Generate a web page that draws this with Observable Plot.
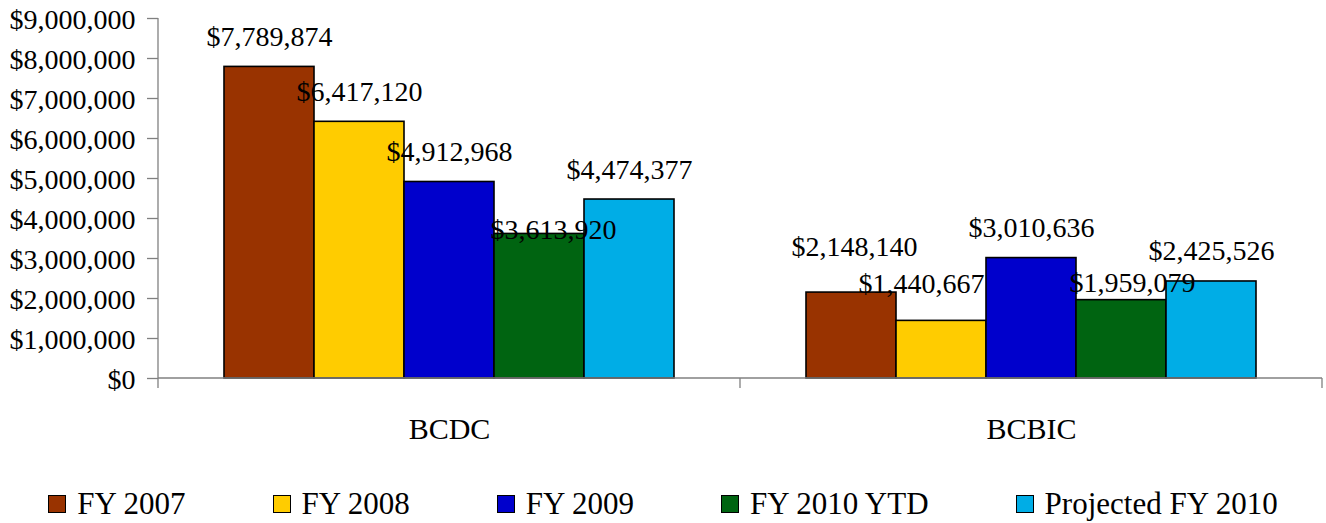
<!DOCTYPE html>
<html>
<head>
<meta charset="utf-8">
<script src="https://cdn.jsdelivr.net/npm/d3@7"></script>
<script src="https://cdn.jsdelivr.net/npm/@observablehq/plot@0.6"></script>
<style>
  html, body { margin: 0; padding: 0; background: #fff; font-family: 'Liberation Serif', serif; }
  #chart { width: 1326px; font-family: 'Liberation Serif', serif; }
  #chart svg, #chart svg text { font-family: 'Liberation Serif', serif !important; }
  .legend { display: flex; justify-content: center; align-items: center; gap: 87px; height: 34px; padding-top: 14.5px; line-height: 34px; font-size: 31px; color: #000; font-family: 'Liberation Serif', serif; }
  .legend .item { display: flex; align-items: center; white-space: nowrap; }
  .legend .sw { width: 18px; height: 18px; box-sizing: border-box; border: 1.6px solid #000; margin-right: 11px; }
</style>
</head>
<body>
<div id="chart"></div>
<script>
// ---- data ----
const categories = ["BCDC", "BCBIC"];
const series = ["FY 2007", "FY 2008", "FY 2009", "FY 2010 YTD", "Projected FY 2010"];
const fy2007 = [7789874, 2148140];
const fy2008 = [6417120, 1440667];
const fy2009 = [4912968, 3010636];
const fy2010ytd = [3613920, 1959079];
const projected2010 = [4474377, 2425526];
const yTicks = [0, 1000000, 2000000, 3000000, 4000000, 5000000, 6000000, 7000000, 8000000, 9000000];

// ---- styling ----
const colors = ["#993300", "#FFCC00", "#0000CC", "#006411", "#00ADE6"];
// per-label nudges (px), order: category-major, series-minor
const labelDx = [0, 0, 0, 14, 0,   3, -20, 0, 11, 0];
const labelDy = [-21, -21, -21, 5, -21,   -37, -28, -21, -8, -21];

const valuesBySeries = [fy2007, fy2008, fy2009, fy2010ytd, projected2010];
const table = [];
categories.forEach((c, ci) => series.forEach((s, si) => table.push({category: c, series: s, value: valuesBySeries[si][ci]})));

const money = v => "$" + d3.format(",")(v);
const FONT = "'Liberation Serif', serif";

const labelMarks = table.map((d, i) => Plot.text([d], {
  fx: "category", x: "series", y: "value", text: d => money(d.value),
  lineAnchor: "bottom", dx: labelDx[i], dy: labelDy[i], fontSize: 28, fontFamily: FONT, fill: "black"
}));

const plot = Plot.plot({
  width: 1326,
  height: 472,
  marginLeft: 158,
  marginRight: 4,
  marginTop: 18,
  marginBottom: 94,
  style: {fontFamily: FONT, fontSize: "28px", background: "white", color: "black"},
  fx: {domain: categories, padding: 0, label: null},
  x: {domain: series, paddingInner: 0, paddingOuter: 0.733, axis: null},
  y: {domain: [0, 9000000], label: null},
  color: {domain: series, range: colors},
  marks: [
    Plot.axisY({ticks: yTicks, tickSize: 11, fill: "none", label: null, stroke: "#808080", strokeWidth: 1.3}),
    Plot.axisY({ticks: yTicks, tickFormat: money, tickSize: 11, tickPadding: 12, stroke: "none", dy: 1.5, fontSize: 28, fontFamily: FONT, label: null}),
    Plot.axisFx({anchor: "bottom", tickSize: 0, tickPadding: 39, fontSize: 30, fontFamily: FONT, label: null}),
    Plot.barY(table, {fx: "category", x: "series", y: "value", fill: "series", stroke: "black", strokeWidth: 1.6}),
    ...labelMarks
  ]
});

document.getElementById("chart").appendChild(plot);

// axis lines & category separators from the plot's own scales
const fx = plot.scale("fx"), ys = plot.scale("y");
const x0 = fx.apply(categories[0]);
const bw = fx.bandwidth;
const yb = ys.apply(0), yt = ys.apply(yTicks[yTicks.length - 1]);
const g = d3.select(plot).append("g").attr("stroke", "#808080").attr("stroke-width", 1.3).attr("fill", "none");
g.append("line").attr("x1", x0).attr("x2", x0).attr("y1", yt).attr("y2", yb);
g.append("line").attr("x1", x0).attr("x2", x0 + bw * categories.length).attr("y1", yb).attr("y2", yb);
for (let i = 0; i <= categories.length; i++) {
  const xx = x0 + bw * i;
  g.append("line").attr("x1", xx).attr("x2", xx).attr("y1", yb).attr("y2", yb + 10);
}

// legend
const legend = d3.select("#chart").append("div").attr("class", "legend");
series.forEach((s, i) => {
  const it = legend.append("div").attr("class", "item");
  it.append("span").attr("class", "sw").style("background", colors[i]);
  it.append("span").text(s);
});
</script>
</body>
</html>
